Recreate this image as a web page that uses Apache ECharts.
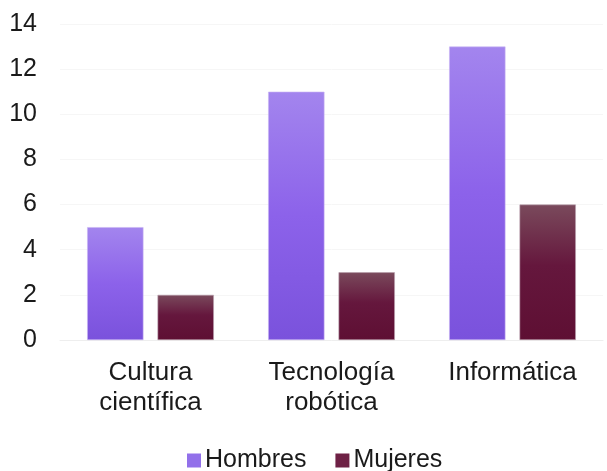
<!DOCTYPE html>
<html><head><meta charset="utf-8">
<script src="https://cdn.jsdelivr.net/npm/echarts@6/dist/echarts.min.js"></script>
<style>html,body{margin:0;padding:0;background:#fff}#c{width:607px;height:471px}</style>
</head><body><div id="c"></div>
<script>
const categories = ['Cultura\ncientífica', 'Tecnología\nrobótica', 'Informática'];
const hombres = [5, 11, 13];
const mujeres = [2, 3, 6];
const seriesNames = ['Hombres', 'Mujeres'];

const chart = echarts.init(document.getElementById('c'));
const font = 'Liberation Sans, Arial, sans-serif';
const gradH = new echarts.graphic.LinearGradient(0, 0, 0, 1, [
  {offset: 0, color: '#a385ee'}, {offset: 0.5, color: '#8c62ea'}, {offset: 1, color: '#7a52dc'}]);
const gradM = new echarts.graphic.LinearGradient(0, 0, 0, 1, [
  {offset: 0, color: '#7a4a5c'}, {offset: 0.45, color: '#65173d'}, {offset: 1, color: '#5e0f33'}]);
chart.setOption({
  animation: false,
  grid: {left: 60, right: 4, top: 24, bottom: 131},
  legend: {
    top: 443, left: 182, itemWidth: 14, itemHeight: 14, itemGap: 29,
    icon: 'rect',
    textStyle: {fontFamily: font, fontSize: 25, color: '#1a1a1a', padding: [0, 0, 0, -1]},
    data: [{name: seriesNames[0], itemStyle: {color: '#9270ea', borderWidth: 0}},
           {name: seriesNames[1], itemStyle: {color: '#6e2145', borderWidth: 0}}]
  },
  xAxis: {
    type: 'category', data: categories,
    axisLine: {lineStyle: {color: '#eeeeee'}}, axisTick: {show: false},
    axisLabel: {fontFamily: font, fontSize: 26, color: '#1a1a1a', margin: 18, lineHeight: 30}
  },
  yAxis: {
    type: 'value', min: 0, max: 14, interval: 2,
    axisLine: {show: false}, axisTick: {show: false},
    splitLine: {lineStyle: {color: '#f6f6f6'}},
    axisLabel: {fontFamily: font, fontSize: 25, color: '#1a1a1a', margin: 23}
  },
  series: [
    {name: seriesNames[0], type: 'bar', data: hombres, barGap: '25%', barCategoryGap: '30%',
     itemStyle: {color: gradH, borderColor: '#c9b6f3', borderWidth: 0.6}},
    {name: seriesNames[1], type: 'bar', data: mujeres,
     itemStyle: {color: gradM, borderColor: '#b9a0ad', borderWidth: 0.6}}
  ]
});
</script></body></html>
